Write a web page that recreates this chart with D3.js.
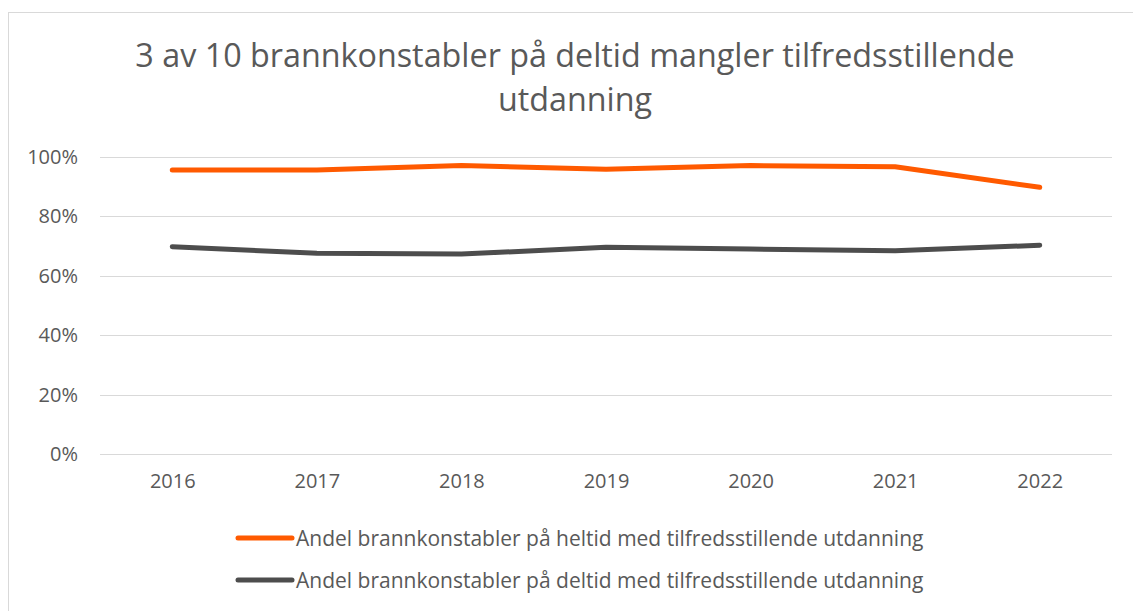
<!DOCTYPE html>
<html>
<head>
<meta charset="utf-8">
<script src="https://cdn.jsdelivr.net/npm/d3@7"></script>
<style>
  body { margin: 0; background: #fff; }
  text { font-family: "Open Sans", sans-serif; fill: #595959; }
</style>
</head>
<body>
<div id="chart"></div>
<script>
const width = 1133;
const height = 611;

const years = ['2016', '2017', '2018', '2019', '2020', '2021', '2022'];
const heltid = [95.6, 95.6, 97.1, 95.9, 97.1, 96.7, 89.8];
const deltid = [69.8, 67.6, 67.3, 69.6, 69.0, 68.4, 70.3];
const seriesNames = [
    'Andel brannkonstabler på heltid med tilfredsstillende utdanning',
    'Andel brannkonstabler på deltid med tilfredsstillende utdanning'
];
const colors = ['#ff5a00', '#4d4d4d'];
const yTicks = [0, 20, 40, 60, 80, 100];
const titleLines = ['3 av 10 brannkonstabler på deltid mangler tilfredsstillende', 'utdanning'];

const svg = d3.select('#chart')
    .append('svg')
    .attr('width', width)
    .attr('height', height);

// chart frame (only top/left visible in the crop)
svg.append('rect')
    .attr('x', 8.5)
    .attr('y', 12.5)
    .attr('width', 1200)
    .attr('height', 700)
    .attr('fill', '#fff')
    .attr('stroke', '#d9d9d9');

svg.selectAll('.title')
    .data(titleLines)
    .enter()
    .append('text')
    .attr('class', 'title')
    .attr('x', 575)
    .attr('y', function (d, i) { return 67 + i * 44; })
    .attr('text-anchor', 'middle')
    .style('font-size', '32.3px')
    .text(function (d) { return d; });

const xScale = d3.scalePoint()
    .domain(years)
    .range([100, 1112])
    .padding(0.5);

const yScale = d3.scaleLinear()
    .domain([0, 100])
    .range([454, 157]);

// gridlines
svg.append('g')
    .selectAll('line')
    .data(yTicks)
    .enter()
    .append('line')
    .attr('x1', 100)
    .attr('x2', 1112)
    .attr('y1', function (d) { return Math.round(yScale(d)) + 0.5; })
    .attr('y2', function (d) { return Math.round(yScale(d)) + 0.5; })
    .attr('stroke', '#d9d9d9')
    .attr('stroke-width', 1);

const yAxis = d3.axisLeft(yScale)
    .tickValues(yTicks)
    .tickFormat(function (d) { return d + '%'; })
    .tickSize(0)
    .tickPadding(0);
const yAxisG = svg.append('g')
    .attr('transform', 'translate(78,0)')
    .call(yAxis);
yAxisG.select('.domain').remove();
yAxisG.selectAll('text')
    .style('font-size', '20px')
    .style('font-family', '"Open Sans", sans-serif')
    .attr('fill', '#595959');

const xAxis = d3.axisBottom(xScale)
    .tickSize(0)
    .tickPadding(0);
const xAxisG = svg.append('g')
    .attr('transform', 'translate(0,474)')
    .call(xAxis);
xAxisG.select('.domain').remove();
xAxisG.selectAll('text')
    .style('font-size', '20px')
    .style('font-family', '"Open Sans", sans-serif')
    .attr('fill', '#595959');

const line = d3.line()
    .x(function (d, i) { return xScale(years[i]); })
    .y(function (d) { return yScale(d); });

[heltid, deltid].forEach(function (values, k) {
    svg.append('path')
        .datum(values)
        .attr('fill', 'none')
        .attr('stroke', colors[k])
        .attr('stroke-width', 5)
        .attr('stroke-linecap', 'round')
        .attr('stroke-linejoin', 'round')
        .attr('d', line);
});

// legend
const legend = svg.selectAll('.legend')
    .data(seriesNames)
    .enter()
    .append('g')
    .attr('class', 'legend')
    .attr('transform', function (d, i) { return 'translate(0,' + (538 + i * 42) + ')'; });
legend.append('line')
    .attr('x1', 238)
    .attr('x2', 292)
    .attr('stroke', function (d, i) { return colors[i]; })
    .attr('stroke-width', 5)
    .attr('stroke-linecap', 'round');
legend.append('text')
    .attr('x', 296)
    .attr('y', 7.5)
    .style('font-size', '21px')
    .text(function (d) { return d; });
</script>
</body>
</html>
